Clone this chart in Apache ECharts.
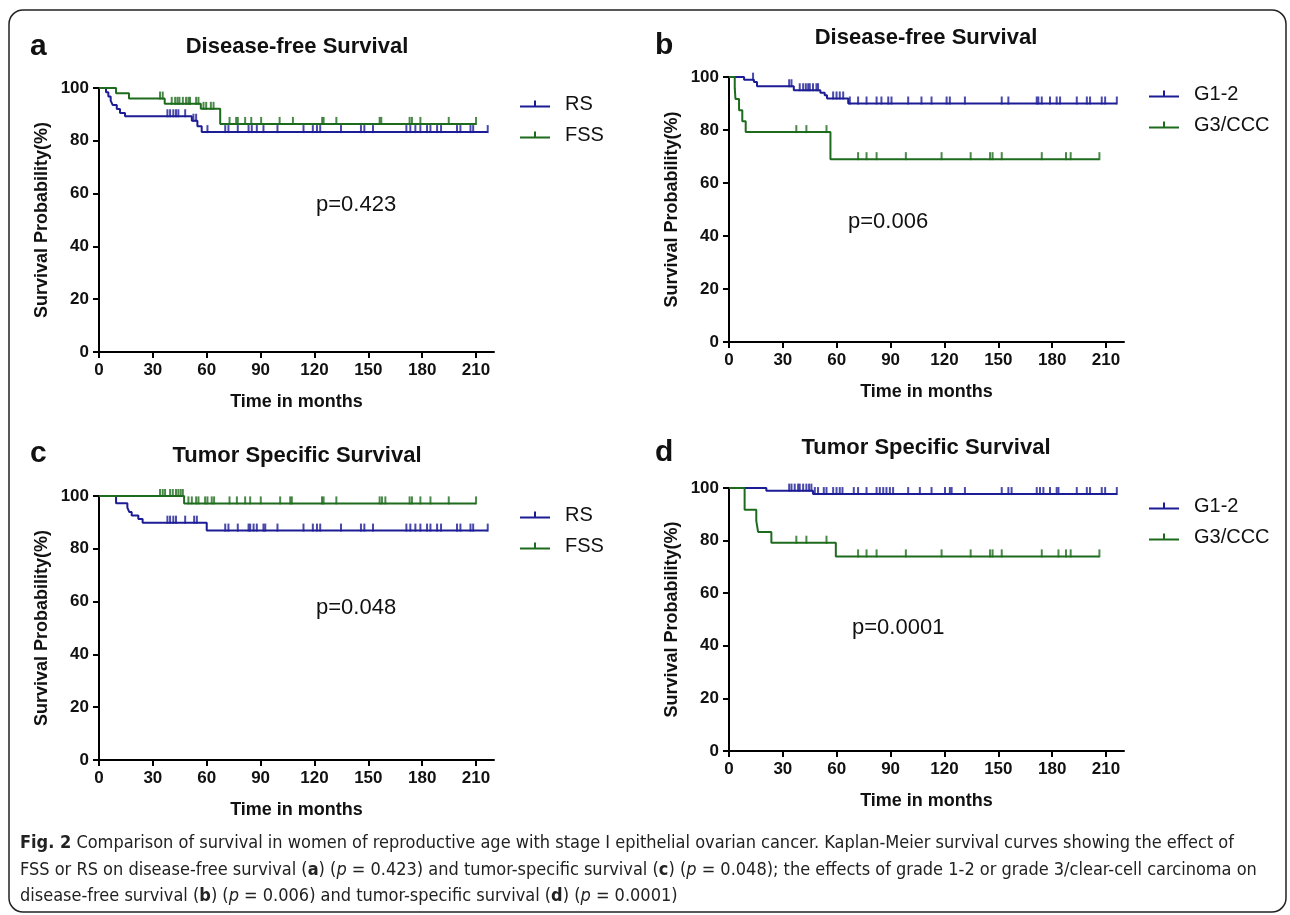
<!DOCTYPE html>
<html>
<head>
    <meta charset="UTF-8">
    <title>Fig. 2</title>
    <script type="text/javascript" src="https://cdn.jsdelivr.net/npm/echarts@6/dist/echarts.min.js"></script>
    <style>
        body { margin: 0; background: #fff; }
    </style>
</head>
<body>

<div id="main" style="height: 915px; width: 1290px;"></div>
<script type="text/javascript">

    // tick labels
    var xTicks = [0, 30, 60, 90, 120, 150, 180, 210];
    var yTicks = [0, 20, 40, 60, 80, 100];

    // a - disease-free survival, RS vs FSS
    var aRsT = [3.9, 5.2, 6.5, 7.6, 9.9, 11.7, 14.5, 51.7, 54.8, 57.2];
    var aRsS = [98.4, 96.8, 95.2, 93.6, 92.0, 90.5, 89.3, 87.6, 85.5, 83.3];
    var aRsCens = [38.1, 39.6, 41.4, 42.9, 44.2, 48, 52.6, 54.1, 60.4, 70.3, 72.1, 77.3, 83.3, 85.1, 87.9, 91.6, 99.4, 113.9, 119.1, 121.4, 123.2, 134.8, 145.9, 147.8, 152.6, 171.2, 173.4, 176.2, 179, 182.7, 184.6, 188.3, 190.5, 199.4, 201.3, 206.9, 208.4, 216.5];
    var aFssT = [9.5, 16.7, 36.6, 56.7, 67.5];
    var aFssS = [98.0, 96.0, 94.0, 92.1, 86.4];
    var aFssCens = [34.0, 35.5, 40.5, 42.4, 43.7, 44.8, 46.7, 48.5, 49.8, 50.7, 54.1, 55.4, 58.2, 59.7, 62.3, 63.8, 72.7, 76.4, 77.3, 81.4, 84.8, 90.3, 100.6, 108, 124.3, 125.1, 132.2, 156.3, 157.2, 173, 174.3, 179, 194.8, 210];

    // b - disease-free survival, G1-2 vs G3/CCC
    var bG12T = [8.4, 13.9, 15.6, 36.1, 50.9, 53.3, 54.6, 66.4];
    var bG12S = [99.0, 98.1, 96.5, 95.0, 94.1, 93.1, 91.9, 90.0];
    var bG12Cens = [13.4, 33.5, 34.8, 39.4, 41.3, 42.8, 44.1, 45, 46.8, 48.7, 49.6, 58, 59.9, 61.7, 63.6, 67.3, 71.9, 76.6, 82.2, 84.9, 88.7, 90.5, 99.8, 107.2, 112.8, 121.2, 123, 131.4, 151.9, 155.6, 171.4, 172.3, 174.2, 178.8, 182.5, 184.4, 193.7, 199.3, 201.1, 207.6, 209.5, 216];
    var bG3T = [3.2, 3.6, 5.6, 7.4, 9.3, 56.5];
    var bG3S = [95.8, 91.7, 87.5, 83.3, 79.2, 69.0];
    var bG3Cens = [37.5, 43.1, 54.3, 71.9, 76.6, 82.2, 98.5, 118.4, 134.6, 145.4, 146.8, 151.9, 174.2, 187.7, 190.3, 206.3];

    // c - tumor specific survival, RS vs FSS
    var cRsT = [9.5, 15.8, 16.9, 18.2, 21.9, 24.3, 60];
    var cRsS = [97.3, 95.6, 93.9, 92.6, 91.3, 89.9, 86.9];
    var cRsCens = [38.1, 39.6, 41.4, 42.9, 48, 53, 54.5, 70.3, 72.1, 77.3, 83.3, 84.2, 86.1, 87.9, 91.6, 92.6, 99.4, 113.9, 119.1, 121.4, 123.2, 134.8, 145.9, 147.8, 152.6, 171.2, 173.4, 176.2, 179, 182.7, 184.6, 188.3, 190.5, 199.4, 201.3, 206.9, 208.4, 216.5];
    var cFssT = [47.4];
    var cFssS = [97.2];
    var cFssCens = [34, 35.5, 36.8, 39.6, 41.1, 42.9, 44.2, 45.5, 46.7, 49.8, 51.7, 54.1, 55.4, 59.1, 60.4, 62.8, 64.1, 72.7, 76.8, 81.4, 84.2, 90.1, 100.9, 106.5, 107.4, 124.2, 125.1, 132.2, 156.3, 157.6, 159.5, 173, 174.3, 179, 184.6, 194.8, 210];

    // d - tumor specific survival, G1-2 vs G3/CCC
    var dG12T = [20.8, 46.8];
    var dG12S = [99.0, 97.7];
    var dG12Cens = [33.5, 34.8, 36.6, 38.5, 39.4, 41.3, 43.1, 44.6, 45.9, 47.8, 49.6, 52.8, 54.3, 58, 59.9, 61.7, 63.2, 69.5, 71.9, 76.6, 82.2, 84, 85.9, 87.7, 89.6, 91.4, 99.8, 106.3, 112.8, 120.3, 123, 124, 131.4, 151.9, 155.6, 157.4, 171.4, 173.2, 175.1, 178.8, 182.5, 183.5, 193.7, 199.3, 201.1, 207.6, 209.5, 216];
    var dG3T = [8.7, 15.2, 16.2, 23.6, 59.5];
    var dG3S = [91.7, 87.5, 83.3, 79.2, 74.0];
    var dG3Cens = [37.5, 43.1, 54.3, 71.9, 76.6, 82.2, 98.5, 118.4, 134.6, 145.4, 146.8, 151.9, 174.2, 183.5, 187.7, 190.3, 206.3];

    var BLUE = '#1c1c96';
    var GREEN = '#1d6b1d';
    var FONT = 'Liberation Sans, Arial, sans-serif';

    // step value at time t
    function survAt(times, surv, t) {
        var v = 100;
        for (var i = 0; i < times.length; i++) {
            if (times[i] <= t) v = surv[i];
        }
        return v;
    }

    function curve(times, surv, cens) {
        var end = cens[cens.length - 1];
        var d = [[0, 100]];
        for (var i = 0; i < times.length; i++) d.push([times[i], surv[i]]);
        d.push([end, surv.length ? surv[surv.length - 1] : 100]);
        return d;
    }

    function censPts(times, surv, cens) {
        return cens.map(function (t) { return [t, survAt(times, surv, t)]; });
    }

    var grids = [
        {left: 99, top: 88, width: 395, height: 264},
        {left: 729, top: 77, width: 395, height: 265},
        {left: 99, top: 496, width: 395, height: 264},
        {left: 729, top: 488, width: 395, height: 263}
    ];

    var axisLineStyle = {color: '#000', width: 2};
    var tickLabel = {color: '#111', fontSize: 17, fontWeight: 'bold', fontFamily: FONT};

    var xAxes = [], yAxes = [];
    for (var g = 0; g < 4; g++) {
        xAxes.push({
            gridIndex: g, type: 'value', min: 0, max: 220,
            name: 'Time in months', nameLocation: 'middle', nameGap: 41,
            nameTextStyle: {color: '#111', fontSize: 18, fontWeight: 'bold', fontFamily: FONT},
            axisLine: {show: true, onZero: false, lineStyle: axisLineStyle},
            axisTick: {show: true, length: 6, lineStyle: axisLineStyle, customValues: xTicks},
            axisLabel: Object.assign({margin: 10, customValues: xTicks}, tickLabel),
            splitLine: {show: false}
        });
        yAxes.push({
            gridIndex: g, type: 'value', min: 0, max: 100, interval: 20,
            name: 'Survival Probability(%)', nameLocation: 'middle', nameGap: 48,
            nameTextStyle: {color: '#111', fontSize: 18, fontWeight: 'bold', fontFamily: FONT},
            axisLine: {show: true, lineStyle: axisLineStyle},
            axisTick: {show: true, length: 6, lineStyle: axisLineStyle, customValues: yTicks},
            axisLabel: Object.assign({margin: 10, customValues: yTicks}, tickLabel),
            splitLine: {show: false}
        });
    }

    var panels = [
        [['RS', aRsT, aRsS, aRsCens, BLUE], ['FSS', aFssT, aFssS, aFssCens, GREEN]],
        [['G1-2', bG12T, bG12S, bG12Cens, BLUE], ['G3/CCC', bG3T, bG3S, bG3Cens, GREEN]],
        [['RS', cRsT, cRsS, cRsCens, BLUE], ['FSS', cFssT, cFssS, cFssCens, GREEN]],
        [['G1-2', dG12T, dG12S, dG12Cens, BLUE], ['G3/CCC', dG3T, dG3S, dG3Cens, GREEN]]
    ];

    var series = [];
    panels.forEach(function (p, gi) {
        p.forEach(function (s) {
            series.push({
                name: s[0], type: 'line', step: 'end',
                xAxisIndex: gi, yAxisIndex: gi,
                showSymbol: false, symbol: 'none',
                color: s[4],
                lineStyle: {color: s[4], width: 2},
                data: curve(s[1], s[2], s[3]),
                silent: true, animation: false
            });
            series.push({
                name: s[0] + ' censored', type: 'scatter',
                xAxisIndex: gi, yAxisIndex: gi,
                symbol: 'rect', symbolSize: [2, 8], symbolOffset: [0, -3],
                itemStyle: {color: s[4]},
                data: censPts(s[1], s[2], s[3]),
                silent: true, animation: false
            });
        });
    });

    var legendIcon = 'path://M0,7 L30,7 L30,9 L0,9 Z M14,2 L16,2 L16,8 L14,8 Z';
    function legend(left, top, names) {
        return {
            left: left, top: top, orient: 'vertical', padding: 0,
            itemWidth: 30, itemHeight: 7, itemGap: 11,
            icon: legendIcon,
            data: names,
            selectedMode: false,
            textStyle: {color: '#111', fontSize: 20, fontFamily: FONT, lineHeight: 20, padding: [0, 0, 0, 10]}
        };
    }

    function title(text, left, top) {
        return {
            text: text, left: left, top: top, textAlign: 'center', padding: 0,
            textStyle: {color: '#111', fontSize: 22, fontWeight: 'bold', fontFamily: FONT}
        };
    }

    function label(text, x, y, size, weight) {
        return {
            type: 'text', x: x, y: y, silent: true,
            style: {text: text, fill: '#111', fontSize: size, fontWeight: weight, fontFamily: FONT, verticalAlign: 'middle'}
        };
    }

    var capFont = '"Liberation Sans Narrow", "DejaVu Sans Condensed", sans-serif';
    var capRich = {
        b: {fontWeight: 'bold', fontSize: 18, fontFamily: capFont, fill: '#222'},
        i: {fontStyle: 'italic', fontSize: 18, fontFamily: capFont, fill: '#222'}
    };
    function capLine(text, y) {
        return {
            type: 'text', x: 20, y: y, silent: true,
            style: {text: text, fill: '#222', fontSize: 18, fontFamily: capFont, verticalAlign: 'middle', rich: capRich}
        };
    }

    var option = {
        backgroundColor: '#fff',
        animation: false,
        grid: grids,
        xAxis: xAxes,
        yAxis: yAxes,
        title: [
            title('Disease-free Survival', 297, 36),
            title('Disease-free Survival', 926, 27),
            title('Tumor Specific Survival', 297, 445),
            title('Tumor Specific Survival', 926, 437)
        ],
        legend: [
            legend(520, 94, ['RS', 'FSS']),
            legend(1149, 84, ['G1-2', 'G3/CCC']),
            legend(520, 505, ['RS', 'FSS']),
            legend(1149, 496, ['G1-2', 'G3/CCC'])
        ],
        graphic: [
            {
                type: 'rect', silent: true,
                shape: {x: 9, y: 10, width: 1277, height: 902, r: 14},
                style: {fill: 'none', stroke: '#222', lineWidth: 1.5}
            },
            label('a', 30, 47, 30, 'bold'),
            label('b', 655, 46, 30, 'bold'),
            label('c', 30, 454, 30, 'bold'),
            label('d', 655, 453, 30, 'bold'),
            label('p=0.423', 316, 205, 22, 'normal'),
            label('p=0.006', 848, 222, 22, 'normal'),
            label('p=0.048', 316, 608, 22, 'normal'),
            label('p=0.0001', 852, 628, 22, 'normal'),
            capLine('{b|Fig. 2} Comparison of survival in women of reproductive age with stage I epithelial ovarian cancer. Kaplan-Meier survival curves showing the effect of', 843),
            capLine('FSS or RS on disease-free survival ({b|a}) ({i|p} = 0.423) and tumor-specific survival ({b|c}) ({i|p} = 0.048); the effects of grade 1-2 or grade 3/clear-cell carcinoma on', 870),
            capLine('disease-free survival ({b|b}) ({i|p} = 0.006) and tumor-specific survival ({b|d}) ({i|p} = 0.0001)', 896)
        ],
        series: series
    };

    var myChart = echarts.init(document.getElementById('main'));
    myChart.setOption(option);

</script>

</body>
</html>
